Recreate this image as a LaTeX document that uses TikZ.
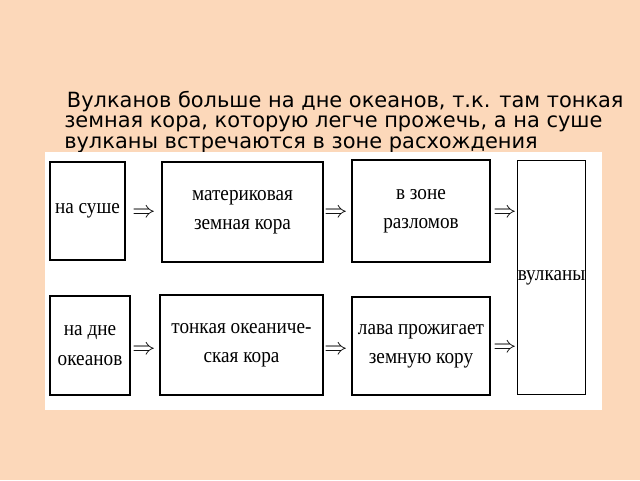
\documentclass[tikz,border=0pt]{standalone}
\usepackage{fontspec}
\setmainfont{Liberation Serif}
\newfontfamily\titlefont{DejaVu Sans}
\newfontfamily\boxfont[FakeStretch=0.9]{Liberation Serif}
\begin{document}
\begin{tikzpicture}[x=0.75pt,y=-0.75pt,
  box/.style={draw=black,line width=0.9pt,align=center,inner xsep=0pt,font=\boxfont\fontsize{16}{22}\selectfont},
  arr/.style={font=\fontsize{16}{18}\selectfont}]
\useasboundingbox (0,0) rectangle (640,480);
\fill[fill={rgb,255:red,252;green,216;blue,186}] (0,0) rectangle (640,480);
\node[anchor=north west,inner sep=0,align=left,font=\titlefont\fontsize{15.7}{15.3}\selectfont] (t) at (64,91)
 {\hspace*{2pt}Вулканов больше на дне океанов, т.к. там тонкая\\земная кора, которую легче прожечь, а на суше\\вулканы встречаются в зоне расхождения};
\fill[white] (45,152) rectangle (602,410);
\node[box,minimum width=56.25pt,minimum height=73.5pt] (a1) at (87.5,211) {на суше};
\node[box,minimum width=120.75pt,minimum height=75pt] (a2) at (242.5,212) {материковая\\земная кора};
\node[box,minimum width=103.5pt,minimum height=76.5pt] (a3) at (421,211) {в зоне\\разломов};
\node[box,minimum width=50.25pt,minimum height=176pt] (v) at (551.5,277.5) {вулканы};
\node[box,minimum width=60pt,minimum height=74.25pt] (b1) at (90,345.5) {на дне\\океанов};
\node[box,minimum width=122.25pt,minimum height=75pt] (b2) at (241.5,345) {тонкая океаниче-\\ская кора};
\node[box,minimum width=103.5pt,minimum height=73.5pt] (b3) at (421,346) {лава прожигает\\земную кору};
\node[arr] (r1) at (144,213) {$\Rightarrow$};
\node[arr] (r2) at (336,213) {$\Rightarrow$};
\node[arr] (r3) at (505,213) {$\Rightarrow$};
\node[arr] (s1) at (144,350) {$\Rightarrow$};
\node[arr] (s2) at (336,350) {$\Rightarrow$};
\node[arr] (s3) at (505,348) {$\Rightarrow$};
\end{tikzpicture}
\end{document}
